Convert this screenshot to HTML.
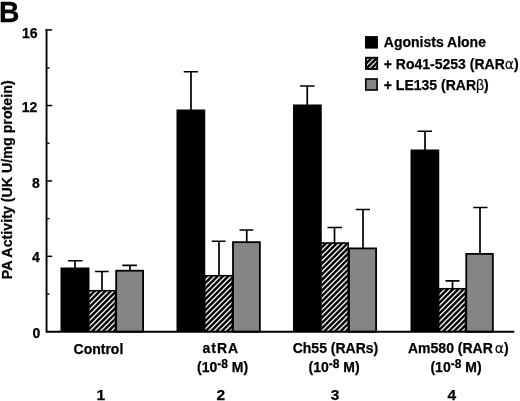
<!DOCTYPE html>
<html><head><meta charset="utf-8"><title>B</title>
<style>
html,body{margin:0;padding:0;background:#fff;}
body{width:520px;height:401px;overflow:hidden;}
svg{display:block;}
text{font-family:"Liberation Sans",sans-serif;font-weight:bold;fill:#000;stroke:#000;stroke-width:0.25px;}
.t14{font-size:14px;}
.num{font-size:15.5px;}
.reg{font-weight:normal;stroke-width:0.15px;}
.sym{font-family:"DejaVu Sans","Liberation Sans",sans-serif;font-weight:normal;stroke-width:0.1px;}
</style></head><body>
<svg width="520" height="401" viewBox="0 0 520 401">
<rect width="520" height="401" fill="#fff"/>

<text transform="translate(-1.1 21.7) scale(1.01 1.06)" style="font-size:28px">B</text>
<path d="M75 268.5 V260.75 M68 260.75 H82.5" stroke="#000" stroke-width="1.7" fill="none"/>
<rect x="60.5" y="267.5" width="29.00" height="64.25" fill="#000"/>
<path d="M102 291 V271.5 M95 271.5 H108.75" stroke="#000" stroke-width="1.7" fill="none"/>
<rect x="89.20" y="290.00" width="27.00" height="41.75" fill="#000"/>
<clipPath id="c0"><rect x="89.70" y="291.20" width="25.00" height="40.55"/></clipPath>
<path clip-path="url(#c0)" d="M87.50 284.70 L118.20 254.00M87.50 290.10 L118.20 259.40M87.50 295.50 L118.20 264.80M87.50 300.90 L118.20 270.20M87.50 306.30 L118.20 275.60M87.50 311.70 L118.20 281.00M87.50 317.10 L118.20 286.40M87.50 322.50 L118.20 291.80M87.50 327.90 L118.20 297.20M87.50 333.30 L118.20 302.60M87.50 338.70 L118.20 308.00M87.50 344.10 L118.20 313.40M87.50 349.50 L118.20 318.80M87.50 354.90 L118.20 324.20M87.50 360.30 L118.20 329.60M87.50 365.70 L118.20 335.00M87.50 371.10 L118.20 340.40" stroke="#f2f2f2" stroke-width="1.4" fill="none"/>
<path d="M89.20 290.60 H116.20" stroke="#000" stroke-width="1.3"/>
<path d="M130 270.8 V265.4 M122.3 265.4 H136.9" stroke="#000" stroke-width="1.7" fill="none"/>
<rect x="116.20" y="270.70" width="26.90" height="61.05" fill="#858585" stroke="#000" stroke-width="1.8"/>
<path d="M191 110.5 V71.75 M183.75 71.75 H198" stroke="#000" stroke-width="1.7" fill="none"/>
<rect x="176.5" y="109.5" width="28.75" height="222.25" fill="#000"/>
<path d="M219 276 V241.25 M211.75 241.25 H225.5" stroke="#000" stroke-width="1.7" fill="none"/>
<rect x="204.95" y="275.00" width="28.05" height="56.75" fill="#000"/>
<clipPath id="c1"><rect x="205.45" y="276.20" width="26.05" height="55.55"/></clipPath>
<path clip-path="url(#c1)" d="M203.25 271.55 L235.00 239.80M203.25 276.95 L235.00 245.20M203.25 282.35 L235.00 250.60M203.25 287.75 L235.00 256.00M203.25 293.15 L235.00 261.40M203.25 298.55 L235.00 266.80M203.25 303.95 L235.00 272.20M203.25 309.35 L235.00 277.60M203.25 314.75 L235.00 283.00M203.25 320.15 L235.00 288.40M203.25 325.55 L235.00 293.80M203.25 330.95 L235.00 299.20M203.25 336.35 L235.00 304.60M203.25 341.75 L235.00 310.00M203.25 347.15 L235.00 315.40M203.25 352.55 L235.00 320.80M203.25 357.95 L235.00 326.20M203.25 363.35 L235.00 331.60M203.25 368.75 L235.00 337.00" stroke="#f2f2f2" stroke-width="1.4" fill="none"/>
<path d="M204.95 275.60 H233.00" stroke="#000" stroke-width="1.3"/>
<path d="M246.75 242.25 V230 M239.5 230 H253.25" stroke="#000" stroke-width="1.7" fill="none"/>
<rect x="233.00" y="242.15" width="26.85" height="89.60" fill="#858585" stroke="#000" stroke-width="1.8"/>
<path d="M307.25 105.5 V86 M300 86 H314.5" stroke="#000" stroke-width="1.7" fill="none"/>
<rect x="293" y="104.5" width="28.75" height="227.25" fill="#000"/>
<path d="M334.5 243.5 V227.5 M327.5 227.5 H342" stroke="#000" stroke-width="1.7" fill="none"/>
<rect x="321.45" y="242.50" width="27.55" height="89.25" fill="#000"/>
<clipPath id="c2"><rect x="321.95" y="243.70" width="25.55" height="88.05"/></clipPath>
<path clip-path="url(#c2)" d="M319.75 236.05 L351.00 204.80M319.75 241.45 L351.00 210.20M319.75 246.85 L351.00 215.60M319.75 252.25 L351.00 221.00M319.75 257.65 L351.00 226.40M319.75 263.05 L351.00 231.80M319.75 268.45 L351.00 237.20M319.75 273.85 L351.00 242.60M319.75 279.25 L351.00 248.00M319.75 284.65 L351.00 253.40M319.75 290.05 L351.00 258.80M319.75 295.45 L351.00 264.20M319.75 300.85 L351.00 269.60M319.75 306.25 L351.00 275.00M319.75 311.65 L351.00 280.40M319.75 317.05 L351.00 285.80M319.75 322.45 L351.00 291.20M319.75 327.85 L351.00 296.60M319.75 333.25 L351.00 302.00M319.75 338.65 L351.00 307.40M319.75 344.05 L351.00 312.80M319.75 349.45 L351.00 318.20M319.75 354.85 L351.00 323.60M319.75 360.25 L351.00 329.00M319.75 365.65 L351.00 334.40M319.75 371.05 L351.00 339.80" stroke="#f2f2f2" stroke-width="1.4" fill="none"/>
<path d="M321.45 243.10 H349.00" stroke="#000" stroke-width="1.3"/>
<path d="M363 248.5 V209.5 M355.75 209.5 H370" stroke="#000" stroke-width="1.7" fill="none"/>
<rect x="349.00" y="248.40" width="27.10" height="83.35" fill="#858585" stroke="#000" stroke-width="1.8"/>
<path d="M425 150.5 V131.25 M417.5 131.25 H432" stroke="#000" stroke-width="1.7" fill="none"/>
<rect x="410.5" y="149.5" width="28.75" height="182.25" fill="#000"/>
<path d="M452.5 289 V280.9 M445.5 280.9 H459.5" stroke="#000" stroke-width="1.7" fill="none"/>
<rect x="438.95" y="288.00" width="27.30" height="43.75" fill="#000"/>
<clipPath id="c3"><rect x="439.45" y="289.20" width="25.30" height="42.55"/></clipPath>
<path clip-path="url(#c3)" d="M437.25 280.55 L468.25 249.55M437.25 285.95 L468.25 254.95M437.25 291.35 L468.25 260.35M437.25 296.75 L468.25 265.75M437.25 302.15 L468.25 271.15M437.25 307.55 L468.25 276.55M437.25 312.95 L468.25 281.95M437.25 318.35 L468.25 287.35M437.25 323.75 L468.25 292.75M437.25 329.15 L468.25 298.15M437.25 334.55 L468.25 303.55M437.25 339.95 L468.25 308.95M437.25 345.35 L468.25 314.35M437.25 350.75 L468.25 319.75M437.25 356.15 L468.25 325.15M437.25 361.55 L468.25 330.55M437.25 366.95 L468.25 335.95" stroke="#f2f2f2" stroke-width="1.4" fill="none"/>
<path d="M438.95 288.60 H466.25" stroke="#000" stroke-width="1.3"/>
<path d="M480 254 V207.5 M473.25 207.5 H487.5" stroke="#000" stroke-width="1.7" fill="none"/>
<rect x="466.25" y="253.90" width="26.60" height="77.85" fill="#858585" stroke="#000" stroke-width="1.8"/>
<path d="M46.55 29.2 V331.75 M45.6 331.75 H514.3" stroke="#000" stroke-width="1.9" fill="none"/>
<path d="M46.4 256.35 H52.2" stroke="#000" stroke-width="1.5"/>
<path d="M46.4 180.95 H52.2" stroke="#000" stroke-width="1.5"/>
<path d="M46.4 105.55 H52.2" stroke="#000" stroke-width="1.5"/>
<path d="M45.4 29.95 H52.2" stroke="#000" stroke-width="1.5"/>
<path d="M46.4 294.05 H49.6" stroke="#000" stroke-width="1.3"/>
<path d="M46.4 218.65 H49.6" stroke="#000" stroke-width="1.3"/>
<path d="M46.4 143.25 H49.6" stroke="#000" stroke-width="1.3"/>
<path d="M46.4 67.85 H49.6" stroke="#000" stroke-width="1.3"/>
<text class="t14" x="37.6" y="38.1" text-anchor="end">16</text>
<text class="t14" x="37.4" y="111.5" text-anchor="end">12</text>
<text class="t14" x="39.7" y="187.5" text-anchor="end">8</text>
<text class="t14" x="39.7" y="262.2" text-anchor="end">4</text>
<text class="t14" x="40.2" y="338.1" text-anchor="end">0</text>
<text class="t14" transform="translate(11.9 179.8) rotate(-90)" text-anchor="middle" style="font-size:14.25px">PA Activity (UK U/mg protein)</text>
<rect x="365" y="36.1" width="12.9" height="12.5" fill="#000"/>
<rect x="365" y="56.8" width="13.1" height="13.1" fill="#000"/>
<clipPath id="lc"><rect x="366.9" y="58.7" width="9.4" height="9.4"/></clipPath>
<g clip-path="url(#lc)" stroke="#e6e6e6" stroke-width="1.3"><path d="M352.0 75 L377.0 50"/><path d="M357.2 75 L382.2 50"/><path d="M362.4 75 L387.4 50"/><path d="M367.6 75 L392.6 50"/></g>
<rect x="365.8" y="79" width="11.3" height="11" fill="#858585" stroke="#000" stroke-width="1.6"/>
<text class="t14" x="383.8" y="47.4">Agonists Alone</text>
<text class="t14" x="383.8" y="68.7">+ Ro41-5253 (RAR<tspan class="sym">α</tspan>)</text>
<text class="t14" x="383.8" y="89.5">+ LE135 (RAR<tspan class="reg">β</tspan>)</text>
<text class="t14" x="98.4" y="353.6" text-anchor="middle">Control</text>
<text class="t14" x="220.9" y="353.4" text-anchor="middle" style="letter-spacing:1px">atRA</text>
<text class="t14" x="335.5" y="353.4" text-anchor="middle">Ch55 (RARs)</text>
<text class="t14" x="408" y="353.2">Am580 (RAR<tspan class="sym" dx="2">α</tspan>)</text>
<text class="t14" x="222.6" y="371.6" text-anchor="middle">(10<tspan dy="-4" style="font-size:12px">-8</tspan><tspan dy="4"> M)</tspan></text>
<text class="t14" x="334.1" y="371.6" text-anchor="middle">(10<tspan dy="-4" style="font-size:12px">-8</tspan><tspan dy="4"> M)</tspan></text>
<text class="t14" x="456" y="371.6" text-anchor="middle">(10<tspan dy="-4" style="font-size:12px">-8</tspan><tspan dy="4"> M)</tspan></text>
<text class="num" x="100.8" y="399.5" text-anchor="middle">1</text>
<text class="num" x="220.8" y="399.5" text-anchor="middle">2</text>
<text class="num" x="335" y="399.5" text-anchor="middle">3</text>
<text class="num" x="451.9" y="399.5" text-anchor="middle">4</text>
</svg></body></html>
